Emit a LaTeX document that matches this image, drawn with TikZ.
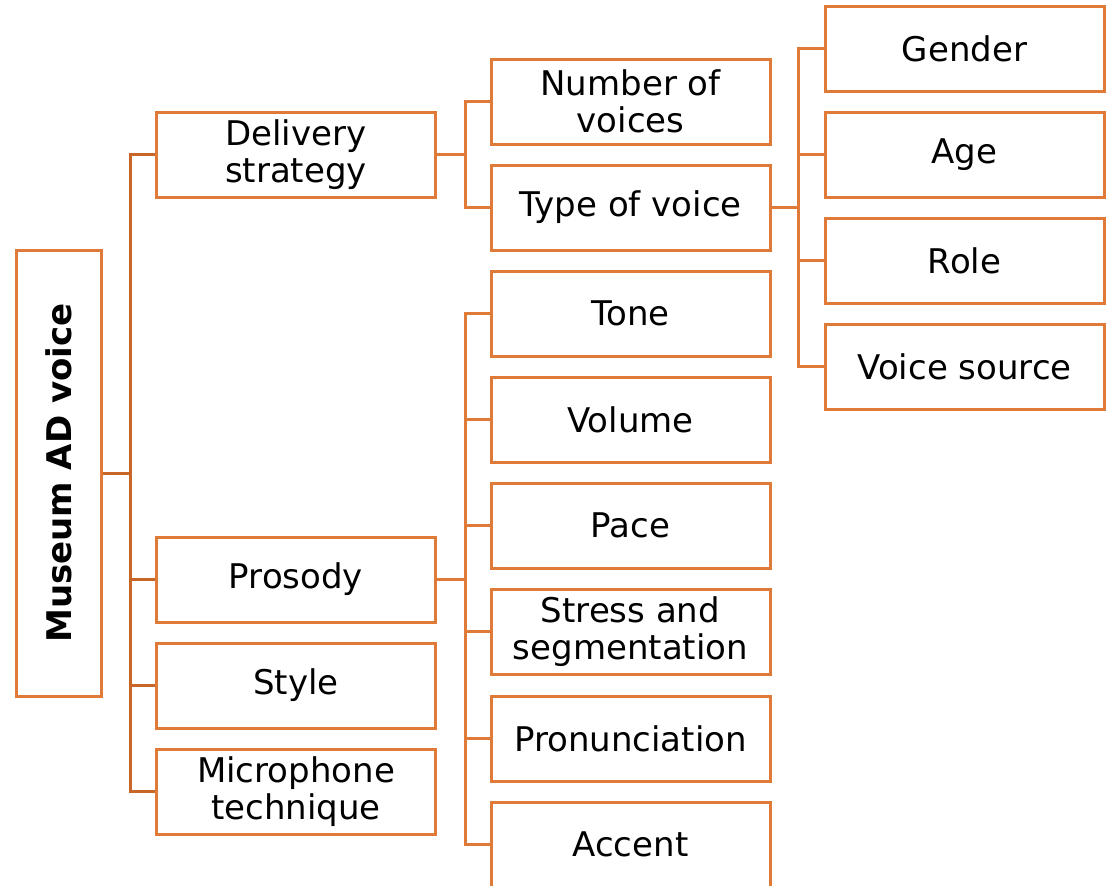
\documentclass[tikz,border=0pt]{standalone}
\usepackage{fontspec}
\setmainfont{DejaVu Sans}
\usetikzlibrary{positioning}
\definecolor{boxorange}{RGB}{224,122,56}
\definecolor{lineorange}{RGB}{200,102,40}
\tikzset{
  box/.style={draw=boxorange, line width=3pt, minimum width=279pt, minimum height=85pt,
    inner sep=0pt, align=center, font=\fontsize{34}{37}\selectfont},
  rootbox/.style={draw=boxorange, line width=3pt, minimum width=446pt, minimum height=85pt,
    inner sep=0pt, rotate=90, font=\bfseries\fontsize{34}{37}\selectfont},
  link/.style={draw=boxorange, line width=3pt},
  rootlink/.style={draw=lineorange, line width=3pt}
}
\begin{document}
\begin{tikzpicture}[x=1pt,y=-1pt]
\useasboundingbox (0,0) rectangle (1116,886);
\clip (0,0) rectangle (1116,885);
% root
\node[rootbox] (root) at (58.5,473) {Museum AD voice};
% first level
\node[box] (del) at (296,154.5) {Delivery\\strategy};
\node[box] (pros) at (296,579.5) {Prosody};
\node[box] (sty) at (296,685.5) {Style};
\node[box] (mic) at (296,791.5) {Microphone\\technique};
% second level
\node[box] (num) at (630.5,101.5) {Number of\\voices};
\node[box] (type) at (630.5,207.5) {Type of voice};
\node[box] (tone) at (630.5,313.5) {Tone};
\node[box] (vol) at (630.5,419.5) {Volume};
\node[box] (pace) at (630.5,525.5) {Pace};
\node[box] (stress) at (630.5,631.5) {Stress and\\segmentation};
\node[box] (pron) at (630.5,738.5) {Pronunciation};
\node[box] (acc) at (630.5,844.5) {Accent};
% third level
\node[box] (gen) at (964.5,48.5) {Gender};
\node[box] (age) at (964.5,154.5) {Age};
\node[box] (role) at (964.5,260.5) {Role};
\node[box] (src) at (964.5,366.5) {Voice source};
% connectors
\foreach \n in {del,pros,sty,mic}
  \path[rootlink] (root.south) -- ++(28,0) |- (\n.west);
\foreach \n in {num,type}
  \path[link] (del.east) -- ++(28,0) |- (\n.west);
\foreach \n in {tone,vol,pace,stress,pron,acc}
  \path[link] (pros.east) -- ++(28,0) |- (\n.west);
\foreach \n in {gen,age,role,src}
  \path[link] (type.east) -- ++(27,0) |- (\n.west);
\end{tikzpicture}
\end{document}
